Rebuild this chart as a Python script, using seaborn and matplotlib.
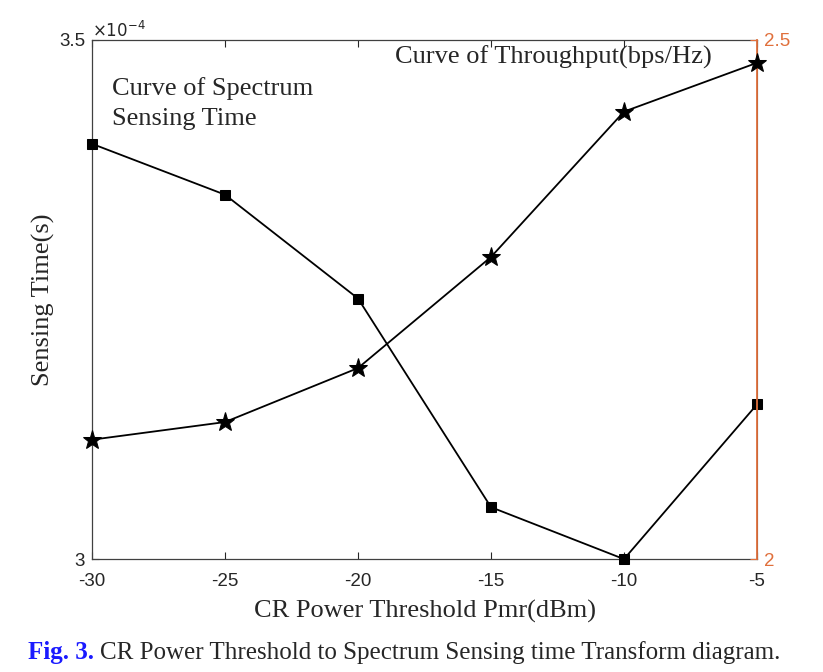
import pandas as pd
import seaborn as sns
import matplotlib.pyplot as plt

# data
power_dbm = [-30, -25, -20, -15, -10, -5]
sensing_time = [3.400e-4, 3.351e-4, 3.251e-4, 3.050e-4, 3.000e-4, 3.149e-4]
throughput = [2.115, 2.132, 2.184, 2.291, 2.431, 2.478]

df = pd.DataFrame({"pmr": power_dbm, "time": sensing_time, "thr": throughput})

sns.set_style("ticks")
plt.rcParams["font.family"] = ["Liberation Sans", "DejaVu Sans"]
serif = ["Liberation Serif", "DejaVu Serif"]
orange = "#e0703c"

fig = plt.figure(figsize=(8.23, 6.72), dpi=100)
ax = fig.add_axes([0.1118, 0.168, 0.808, 0.7725])

sns.lineplot(data=df, x="pmr", y="time", ax=ax, color="black", lw=1.3,
             marker="s", markersize=7, markeredgecolor="black", clip_on=False,
             zorder=5)
ax.set_xlim(-30, -5)
ax.set_ylim(3e-4, 3.5e-4)
ax.set_yticks([3e-4, 3.5e-4], ["3", "3.5"])
ax.set_xticks(power_dbm, [str(v) for v in power_dbm])
ax.tick_params(direction="in", labelsize=13.5, length=5, top=True, width=0.8)
ax.tick_params(axis="x", pad=10)
ax.tick_params(axis="y", pad=5)
ax.text(0.0, 1.0, r"$\times10^{-4}$", transform=ax.transAxes, fontsize=12,
        ha="left", va="bottom")
ax.set_xlabel("CR Power Threshold Pmr(dBm)", family=serif, fontsize=19, labelpad=7)
ax.set_ylabel("Sensing Time(s)", family=serif, fontsize=19, labelpad=3)
for s in ["top", "bottom", "left"]:
    ax.spines[s].set_color("#404040")
    ax.spines[s].set_linewidth(0.9)

ax2 = ax.twinx()
sns.lineplot(data=df, x="pmr", y="thr", ax=ax2, color="black", lw=1.3,
             marker="*", markersize=14, markeredgecolor="black", clip_on=False,
             zorder=5)
ax2.set_ylim(2, 2.5)
ax2.set_yticks([2, 2.5], ["2", "2.5"])
ax2.set_ylabel("")
ax2.tick_params(direction="in", colors=orange, labelsize=13.5, length=5, pad=5)
ax2.spines["right"].set_color(orange)
ax2.spines["right"].set_linewidth(1.3)
for s in ["top", "bottom", "left"]:
    ax2.spines[s].set_visible(False)

ax.text(0.03, 0.894, "Curve of Spectrum", transform=ax.transAxes,
        family=serif, fontsize=19, va="baseline")
ax.text(0.03, 0.836, "Sensing Time", transform=ax.transAxes,
        family=serif, fontsize=19, va="baseline")
ax.text(0.455, 0.955, "Curve of Throughput(bps/Hz)", transform=ax.transAxes,
        family=serif, fontsize=19, va="baseline")

fig.text(0.034, 0.019, "Fig. 3.", color="#1a1aff", family=serif, fontsize=18,
         fontweight="bold")
fig.text(0.121, 0.019, "CR Power Threshold to Spectrum Sensing time Transform diagram.",
         family=serif, fontsize=18)

fig.savefig("out.png", dpi=100)
